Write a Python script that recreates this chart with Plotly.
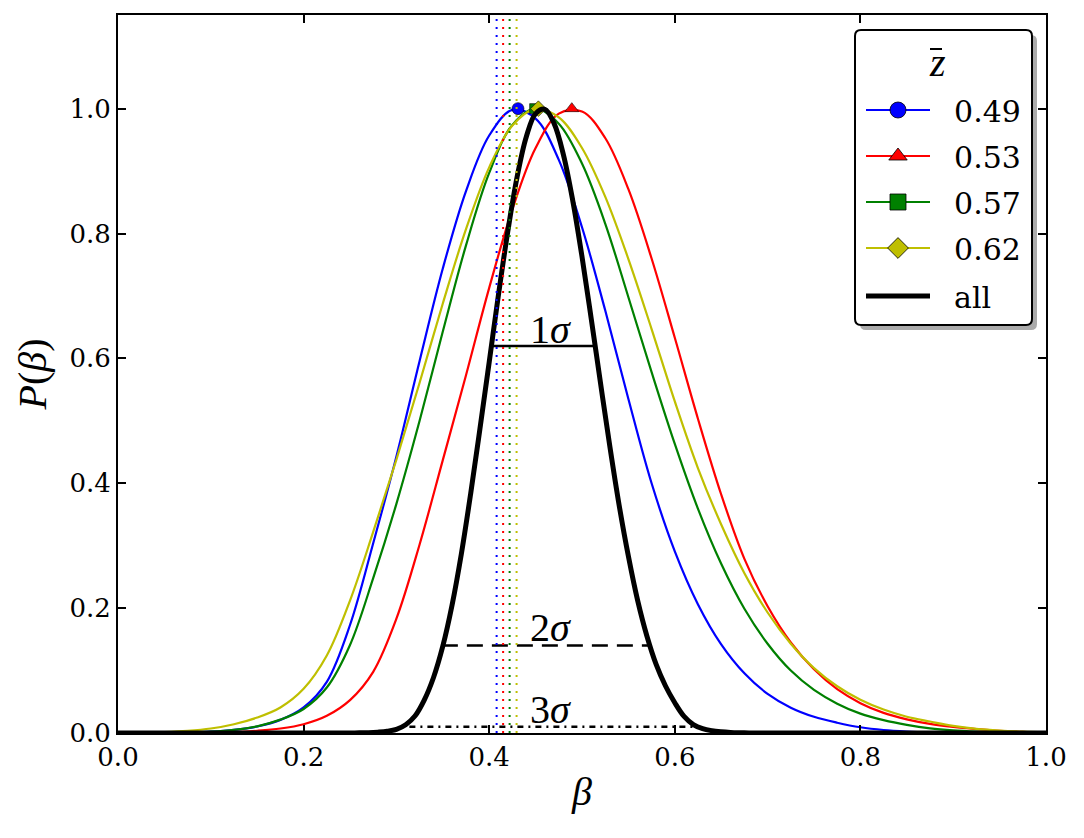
import plotly.graph_objects as go

# ---------------- data ----------------
beta_grid = [0.000, 0.025, 0.050, 0.075, 0.100, 0.125, 0.150, 0.175, 0.200, 0.225,
             0.250, 0.275, 0.300, 0.325, 0.350, 0.375, 0.400, 0.425, 0.450, 0.475,
             0.500, 0.525, 0.550, 0.575, 0.600, 0.625, 0.650, 0.675, 0.700, 0.725,
             0.750, 0.775, 0.800, 0.825, 0.850, 0.875, 0.900, 0.925, 0.950, 0.975, 1.000]

p_049 = [0.0, 0.0001, 0.0003, 0.0008, 0.0021, 0.0050, 0.0104, 0.021, 0.041, 0.082,
         0.173, 0.304, 0.443, 0.596, 0.744, 0.868, 0.957, 0.998, 0.984, 0.918,
         0.810, 0.677, 0.535, 0.400, 0.291, 0.206, 0.142, 0.0956, 0.0627, 0.0406,
         0.0260, 0.0165, 0.0092, 0.0048, 0.0024, 0.0011, 0.0005, 0.0002, 0.0001, 0.0, 0.0]
p_053 = [0.0, 0.0, 0.0001, 0.0002, 0.0006, 0.0015, 0.0036, 0.0072, 0.0141, 0.0276,
         0.0527, 0.098, 0.183, 0.302, 0.437, 0.573, 0.713, 0.839, 0.937, 0.992,
         0.9955, 0.953, 0.871, 0.760, 0.633, 0.503, 0.382, 0.279, 0.203, 0.145,
         0.102, 0.0702, 0.0478, 0.0322, 0.0219, 0.0146, 0.0098, 0.0063, 0.0035, 0.0018, 0.0010]
p_057 = [0.0, 0.0001, 0.0003, 0.0009, 0.0021, 0.0050, 0.0107, 0.0214, 0.0385, 0.0728,
         0.141, 0.248, 0.367, 0.500, 0.643, 0.781, 0.897, 0.974, 1.000, 0.976,
         0.912, 0.816, 0.698, 0.578, 0.463, 0.359, 0.271, 0.199, 0.143, 0.100,
         0.069, 0.047, 0.031, 0.0206, 0.0130, 0.0074, 0.0041, 0.0022, 0.0011, 0.0006, 0.0003]
p_062 = [0.0003, 0.0007, 0.0016, 0.0035, 0.0072, 0.0141, 0.0247, 0.0408, 0.0707, 0.124,
         0.212, 0.322, 0.438, 0.561, 0.688, 0.807, 0.906, 0.973, 0.9995, 0.986,
         0.937, 0.859, 0.759, 0.647, 0.531, 0.424, 0.334, 0.256, 0.193, 0.143,
         0.104, 0.0749, 0.0532, 0.0375, 0.0261, 0.0184, 0.0113, 0.0067, 0.0039, 0.0022, 0.0012]

all_beta = [0.00, 0.10, 0.20, 0.24, 0.25, 0.26, 0.27, 0.28, 0.29, 0.30, 0.31, 0.32, 0.33, 0.34,
            0.35, 0.36, 0.37, 0.38, 0.39, 0.40, 0.41, 0.42, 0.43, 0.44, 0.45, 0.46, 0.47,
            0.48, 0.49, 0.50, 0.51, 0.52, 0.53, 0.54, 0.55, 0.56, 0.57, 0.58, 0.59, 0.60,
            0.61, 0.62, 0.63, 0.64, 0.65, 0.66, 0.67, 0.68, 0.69, 0.70, 0.80, 0.90, 1.00]
p_all = [0.0, 0.0, 0.0, 0.0, 0.0001, 0.0003, 0.0006, 0.0014, 0.0028, 0.0059, 0.0133, 0.0272,
         0.0527, 0.0889, 0.139, 0.205, 0.287, 0.383, 0.487, 0.594, 0.702, 0.803, 0.890,
         0.955, 0.992, 0.999, 0.976, 0.926, 0.853, 0.763, 0.663, 0.560, 0.459, 0.365,
         0.283, 0.212, 0.155, 0.1095, 0.0753, 0.0485, 0.0266, 0.0135, 0.0069, 0.0037,
         0.0020, 0.0010, 0.0005, 0.0002, 0.0001, 0.0, 0.0, 0.0, 0.0]

series_names = ["0.49", "0.53", "0.57", "0.62"]
series_colors = ["#0000ff", "#ff0000", "#008000", "#bfbf00"]
series_symbols = ["circle", "triangle-up", "square", "diamond"]
series_p = [p_049, p_053, p_057, p_062]
peak_x = [0.431, 0.489, 0.449, 0.453]
peak_y = [1.0, 1.0, 1.0, 1.0]

vline_x = [0.408, 0.415, 0.422, 0.4295]

sigma_labels = ["1σ", "2σ", "3σ"]
sigma_level = [0.62, 0.14, 0.01]
sigma_lo = [0.402, 0.349, 0.314]
sigma_hi = [0.513, 0.572, 0.625]
sigma_dash = ["solid", "16px,9px", "6px,5px,2px,5px"]
sigma_label_y = [0.646, 0.169, 0.038]
sigma_label_x = 0.466

# ---------------- figure ----------------
fig = go.Figure()

for ys, col in zip(series_p, series_colors):
    fig.add_trace(go.Scatter(x=beta_grid, y=ys, mode="lines", line=dict(color=col, width=2.2, shape="spline"),
                             showlegend=False, hoverinfo="skip"))

legend_ids = ["legend", "legend2", "legend3", "legend4", "legend5"]
for i, (px, py, col, sym, nm) in enumerate(zip(peak_x, peak_y, series_colors, series_symbols, series_names)):
    # marker at the peak of each curve
    fig.add_trace(go.Scatter(x=[px], y=[py], mode="markers", showlegend=False, hoverinfo="skip",
                             marker=dict(symbol=sym, size=12 if sym != "square" else 10, color=col,
                                         line=dict(color="black", width=0.6))))
    # legend entry (larger marker, as in the reference legend)
    fig.add_trace(go.Scatter(x=[None], y=[None], mode="lines+markers", name="\u00a0\u00a0" + nm,
                             line=dict(color=col, width=2.2),
                             marker=dict(symbol=sym, size=18, color=col, line=dict(color="black", width=0.8)),
                             legend=legend_ids[i]))

fig.add_trace(go.Scatter(x=all_beta, y=p_all, mode="lines", name="\u00a0\u00a0all",
                         line=dict(color="black", width=5, shape="spline"), legend="legend5", hoverinfo="skip"))

for lv, lo, hi, ds in zip(sigma_level, sigma_lo, sigma_hi, sigma_dash):
    fig.add_trace(go.Scatter(x=[lo, hi], y=[lv, lv], mode="lines", line=dict(color="black", width=2.5, dash=ds),
                             showlegend=False, hoverinfo="skip"))

for vx, col in zip(vline_x, series_colors):
    fig.add_trace(go.Scatter(x=[vx, vx], y=[0, 1.15], mode="lines", line=dict(color=col, width=2, dash="2px,6px"),
                             showlegend=False, hoverinfo="skip"))

for lab, ly in zip(sigma_labels, sigma_label_y):
    fig.add_annotation(x=sigma_label_x, y=ly, xref="x", yref="y", text=lab[0] + "<i>" + lab[1] + "</i>",
                       showarrow=False, xanchor="center", yanchor="middle",
                       font=dict(family="Liberation Serif", size=40, color="black"))

# legend box (rounded, with shadow)
L, R, T, B = 118, 1046, 15, 733
def px2paper(xp, yp):
    return (xp - L) / (R - L), (B - yp) / (B - T)

def rounded(x0p, y0p, x1p, y1p, r=6):
    x0, y1 = px2paper(x0p, y0p)
    x1, y0 = px2paper(x1p, y1p)
    rx = r / (R - L)
    ry = r / (B - T)
    return (f"M {x0+rx},{y1} L {x1-rx},{y1} Q {x1},{y1} {x1},{y1-ry} L {x1},{y0+ry} "
            f"Q {x1},{y0} {x1-rx},{y0} L {x0+rx},{y0} Q {x0},{y0} {x0},{y0+ry} "
            f"L {x0},{y1-ry} Q {x0},{y1} {x0+rx},{y1} Z")

fig.add_shape(type="path", xref="paper", yref="paper", path=rounded(860, 35, 1037, 330),
              fillcolor="#ababab", line=dict(width=0), layer="above")
fig.add_shape(type="path", xref="paper", yref="paper", path=rounded(855, 30, 1032, 325),
              fillcolor="white", line=dict(color="black", width=2), layer="above")

# legend title: italic z with a bar
zx, zy = px2paper(937, 62)
fig.add_annotation(x=zx, y=zy, xref="paper", yref="paper", text="<i>z</i>", showarrow=False,
                   xanchor="center", yanchor="middle",
                   font=dict(family="Liberation Serif", size=40, color="black"))
bx0, by = px2paper(930, 49)
bx1, _ = px2paper(942, 49)
fig.add_shape(type="line", xref="paper", yref="paper", x0=bx0, x1=bx1, y0=by, y1=by,
              line=dict(color="black", width=2), layer="above")

legend_centers = [110, 156, 202, 248, 296]
leg_x, _ = px2paper(861, 0)
for lid, cy in zip(legend_ids, legend_centers):
    _, ly = px2paper(0, cy)
    fig.update_layout({lid: dict(x=leg_x, xanchor="left", y=ly, yanchor="middle",
                                 bgcolor="rgba(0,0,0,0)", borderwidth=0, itemwidth=64,
                                 font=dict(family="DejaVu Serif", size=30, color="black"))})

axis_common = dict(showline=True, linecolor="black", linewidth=2, mirror="ticks", ticks="inside",
                   ticklen=8, tickwidth=1.5, tickcolor="black", showgrid=False, zeroline=False,
                   tickfont=dict(family="DejaVu Serif", size=26, color="black"), tickformat=".1f")

fig.update_layout(
    width=1084, height=838,
    margin=dict(l=118, r=38, t=15, b=105),
    paper_bgcolor="white", plot_bgcolor="white",
    xaxis=dict(range=[0, 1], tickvals=[0, 0.2, 0.4, 0.6, 0.8, 1.0],
               title=dict(text="<i>β</i>", font=dict(family="Liberation Serif", size=40, color="black"), standoff=6),
               **axis_common),
    yaxis=dict(range=[0, 1.15], tickvals=[0, 0.2, 0.4, 0.6, 0.8, 1.0],
               title=dict(text="<i>P</i>(<i>β</i>)", font=dict(family="Liberation Serif", size=40, color="black"), standoff=10),
               **axis_common),
)

fig.write_html("out.html")
